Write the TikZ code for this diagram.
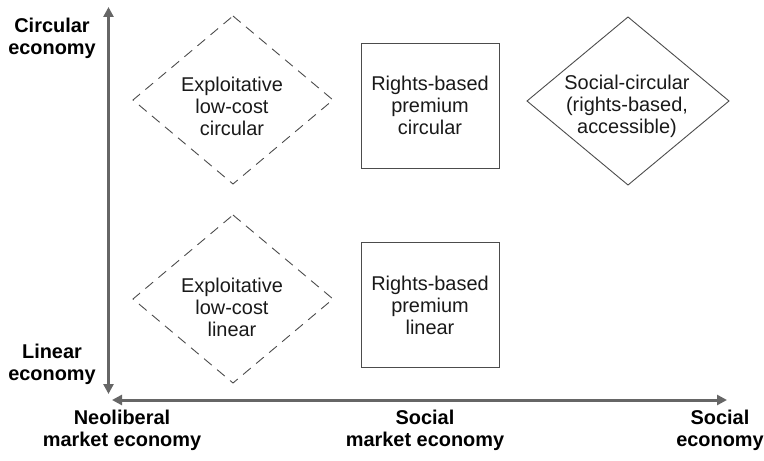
\documentclass[tikz,border=0pt]{standalone}
\usepackage{fontspec}
\setmainfont{Liberation Sans}
\usetikzlibrary{arrows.meta}
\begin{document}
\begin{tikzpicture}[x=1bp,y=-1bp,
  lbl/.style={font=\fontsize{20}{22}\selectfont\bfseries, align=center, inner sep=0pt, text=black},
  boxtxt/.style={font=\fontsize{20}{22}\selectfont, align=center, inner sep=0pt, text=black!90},
  shapeline/.style={draw=black!70, line width=0.9bp},
  dashline/.style={shapeline, dash pattern=on 10bp off 7bp},
  rectbox/.style={boxtxt, shapeline, minimum width=138bp, minimum height=125bp},
  axis/.style={draw=black!60, line width=3bp, {Triangle[length=10bp,width=10bp]}-{Triangle[length=10bp,width=10bp]}}]
\useasboundingbox (0,0) rectangle (764,461);
% axes
\coordinate (vtop) at (108.5,7);
\coordinate (vbot) at (108.5,394);
\coordinate (hl) at (112,400);
\coordinate (hr) at (727,400);
\draw[axis] (vbot) -- (vtop);
\draw[axis] (hl) -- (hr);
% axis labels
\node[lbl] (circ) at (52,38) {Circular\\economy};
\node[lbl] (lin) at (52,364) {Linear\\economy};
\node[lbl] (neo) at (122,430) {Neoliberal\\market economy};
\node[lbl] (sme) at (425,430) {Social\\market economy};
\node[lbl] (se) at (720,430) {Social\\economy};
% dashed diamonds
\coordinate (d1) at (233,100);
\draw[dashline] (d1) ++(0,-84) -- ++(100,84) -- ++(-100,84) -- ++(-100,-84) -- cycle;
\node[boxtxt] (t1) at (232,106.5) {Exploitative\\low-cost\\circular};
\coordinate (d2) at (233,299);
\draw[dashline] (d2) ++(0,-84) -- ++(100,84) -- ++(-100,84) -- ++(-100,-84) -- cycle;
\node[boxtxt] (t2) at (232,307) {Exploitative\\low-cost\\linear};
% rectangles
\node[rectbox] (r1) at (430,105.5) {Rights-based\\premium\\circular};
\node[rectbox] (r2) at (430,305) {Rights-based\\premium\\linear};
% solid diamond
\coordinate (d3) at (628,101);
\draw[shapeline] (d3) ++(0,-84) -- ++(101,84) -- ++(-101,84) -- ++(-101,-84) -- cycle;
\node[boxtxt] (t3) at (627,106) {Social-circular\\(rights-based,\\accessible)};
\end{tikzpicture}
\end{document}
